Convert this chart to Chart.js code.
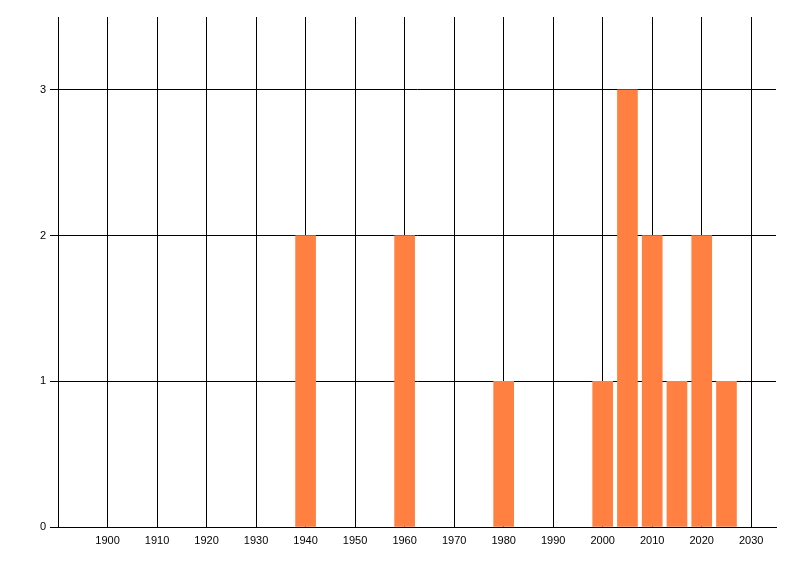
<!DOCTYPE html>
<html>
<head>
<meta charset="utf-8">
<script src="https://cdn.jsdelivr.net/npm/chart.js@4"></script>
<style>
  html, body { margin: 0; padding: 0; background: #fff; }
  #wrap { width: 800px; height: 576px; }
</style>
</head>
<body>
<div id="wrap"><canvas id="chart" width="800" height="576"></canvas></div>
<script>
// Data
const years = [1940, 1960, 1980, 2000, 2005, 2010, 2015, 2020, 2025];
const counts = [2, 2, 1, 1, 3, 2, 1, 2, 1];
const xTickValues = [1900, 1910, 1920, 1930, 1940, 1950, 1960, 1970, 1980, 1990, 2000, 2010, 2020, 2030];
const yTickValues = [0, 1, 2, 3];

const points = years.map((y, i) => ({ x: y, y: counts[i] }));

const tickFont = { family: "Liberation Sans", size: 11 };

const ctx = document.getElementById("chart").getContext("2d");
new Chart(ctx, {
  type: "bar",
  data: {
    datasets: [
      {
        data: points,
        backgroundColor: "rgb(255,128,64)",
        borderWidth: 0,
        barThickness: 20,
      },
    ],
  },
  options: {
    responsive: false,
    animation: false,
    layout: { padding: { left: 0, top: 17, right: 24, bottom: 0 } },
    plugins: { legend: { display: false }, tooltip: { enabled: false } },
    scales: {
      x: {
        type: "linear",
        min: 1890,
        max: 2035,
        offset: false,
        afterBuildTicks: (axis) => {
          axis.ticks = xTickValues.map((v) => ({ value: v }));
        },
        afterFit: (axis) => { axis.height = 49; },
        grid: { color: "#000", lineWidth: 1, drawTicks: false, offset: false },
        border: { color: "#000", width: 1 },
        ticks: {
          color: "#000",
          font: tickFont,
          padding: 7,
          maxRotation: 0,
          autoSkip: false,
          callback: (v) => String(v),
        },
      },
      y: {
        min: 0,
        max: 3.5,
        afterBuildTicks: (axis) => {
          axis.ticks = yTickValues.map((v) => ({ value: v }));
        },
        afterFit: (axis) => { axis.width = 58; },
        grid: { color: "#000", lineWidth: 1, tickLength: 8 },
        border: { color: "#000", width: 1 },
        ticks: { color: "#000", font: tickFont, padding: 4 },
      },
    },
  },
});
</script>
</body>
</html>
